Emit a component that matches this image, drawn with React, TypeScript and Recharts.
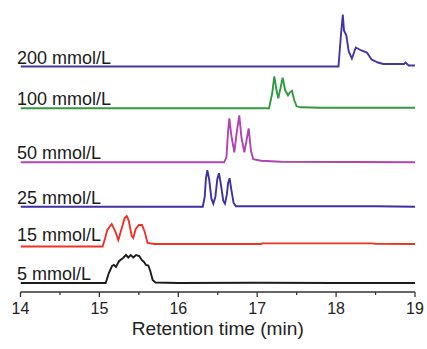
import React from 'react';
import { LineChart, Line, XAxis, YAxis, ReferenceDot } from 'recharts';

// Concentration labels, colours and vertical stacking offsets (a.u.)
const seriesLabels = ['5 mmol/L', '15 mmol/L', '25 mmol/L', '50 mmol/L', '100 mmol/L', '200 mmol/L'];
const seriesColors = ['#1c1c1c', '#ee3326', '#3f30a3', '#b043b3', '#2f9a3f', '#4434a6'];
const baselineOffsets = [9, 48, 85.3, 129.7, 183.7, 225.5];

// Retention time (min) and signal (a.u., above own baseline) for each trace
const t5 = [14, 15.08, 15.12, 15.16, 15.185, 15.21, 15.25, 15.3, 15.337, 15.366, 15.397, 15.43, 15.464, 15.506, 15.536, 15.565, 15.59, 15.62, 15.645, 15.675, 15.71, 16, 17, 18, 19];
const s5 = [0, 0, 10, 17, 18, 16, 22, 25, 28, 25.5, 28, 25.5, 28, 27, 23, 21, 18, 17.5, 12, 3, 0.5, 0, 0.3, 0, 0];

const t15 = [14, 15.04, 15.07, 15.1, 15.156, 15.2, 15.24, 15.28, 15.32, 15.346, 15.37, 15.41, 15.43, 15.46, 15.5, 15.54, 15.575, 15.61, 15.7, 17.05, 17.06, 18.45, 18.5, 19];
const s15 = [-2.5, -2.5, 5, 14, 20, 13, 4, 15, 26, 28, 24, 8, 6, 15, 19, 19, 12, 1, 0, 0, 0.6, 0.6, 0.2, 0];

const t25 = [14, 15.5, 16.31, 16.335, 16.35, 16.368, 16.39, 16.42, 16.444, 16.47, 16.495, 16.516, 16.54, 16.57, 16.592, 16.615, 16.632, 16.65, 16.67, 16.7, 16.73, 17.5, 18.5, 19];
const s25 = [0, 0, 0, 10, 28, 36.5, 28, 8, 3, 10, 28, 33.5, 22, 6, 3, 12, 24, 28.5, 18, 4, 0.5, 0.5, 0.5, 0];

const t50 = [14, 16.58, 16.61, 16.63, 16.647, 16.67, 16.71, 16.74, 16.773, 16.8, 16.837, 16.865, 16.892, 16.92, 16.95, 17.05, 17.3, 19];
const s50 = [0, 0, 5, 30, 44, 28, 10, 30, 47, 25, 10, 22, 34, 12, 3, 1.5, 0.5, 0];

const t100 = [14, 17.15, 17.19, 17.217, 17.245, 17.267, 17.295, 17.323, 17.355, 17.39, 17.415, 17.441, 17.47, 17.5, 17.55, 17.8, 19];
const s100 = [0, 0, 15, 32, 18, 10, 20, 30.5, 18, 13, 16, 17.5, 8, 2, 1, 0.5, 0.5];

const t200 = [14, 18.03, 18.06, 18.085, 18.1, 18.13, 18.16, 18.2, 18.25, 18.32, 18.39, 18.45, 18.53, 18.6, 18.86, 18.88, 18.92, 19];
const s200 = [0, 0, 30, 52, 36, 31, 15, 8, 19, 16, 14, 7, 4, 2.5, 2.5, 4, 1, 1];

const xTicks = [14, 14.5, 15, 15.5, 16, 16.5, 17, 17.5, 18, 18.5, 19];
const xTitle = 'Retention time (min)';

const timeSets = [t5, t15, t25, t50, t100, t200];
const signalSets = [s5, s15, s25, s50, s100, s200];

const traces = timeSets.map((ts, i) =>
  ts.map((t, j) => ({ t, v: signalSets[i][j] + baselineOffsets[i] }))
);

const FONT = '"Liberation Sans", Arial, Helvetica, sans-serif';

const AxisTick = (props: any) => {
  const { x, y, payload } = props;
  const major = Number.isInteger(payload.value);
  return (
    <g>
      <line x1={x} x2={x} y1={y} y2={y + (major ? 5 : 3)} stroke="#333" strokeWidth={1.3} />
      {major && (
        <text x={x} y={y + 22} textAnchor="middle" fontSize={16} fontFamily={FONT} fill="#222">
          {payload.value}
        </text>
      )}
    </g>
  );
};

const AxisTitle = (props: any) => {
  const vb = props.viewBox || {};
  return (
    <text
      x={vb.x + vb.width / 2}
      y={vb.y + 43}
      textAnchor="middle"
      fontSize={18}
      fontFamily={FONT}
      fill="#222"
      textLength={172}
      lengthAdjust="spacingAndGlyphs"
    >
      {xTitle}
    </text>
  );
};

export default function App() {
  return (
    <div style={{ position: 'absolute', left: 0, top: 0, background: '#fff' }}>
      <LineChart width={427} height={349} margin={{ top: 0, right: 12, bottom: 0, left: 20.5 }}>
        <XAxis
          dataKey="t"
          type="number"
          domain={[14, 19]}
          ticks={xTicks}
          interval={0}
          tickSize={0}
          tickMargin={0}
          tickLine={false}
          axisLine={{ stroke: '#333', strokeWidth: 1.5 }}
          tick={<AxisTick />}
          height={57}
          allowDataOverflow
          label={{ content: (p: any) => <AxisTitle {...p} /> }}
        />
        <YAxis hide type="number" domain={[0, 292]} allowDataOverflow />
        {traces.map((d, i) => (
          <Line
            key={seriesLabels[i]}
            data={d}
            dataKey="v"
            type="linear"
            stroke={seriesColors[i]}
            strokeWidth={1.9}
            dot={false}
            activeDot={false}
            isAnimationActive={false}
          />
        ))}
        {seriesLabels.map((lab, i) => (
          <ReferenceDot
            key={'lab' + i}
            x={14}
            y={baselineOffsets[i]}
            r={0}
            ifOverflow="visible"
            shape={(p: any) => (
              <text x={p.cx - 3.5} y={p.cy - 3} fontSize={18} fontFamily={FONT} fill="#1a1a1a">
                {lab}
              </text>
            )}
          />
        ))}
      </LineChart>
    </div>
  );
}
